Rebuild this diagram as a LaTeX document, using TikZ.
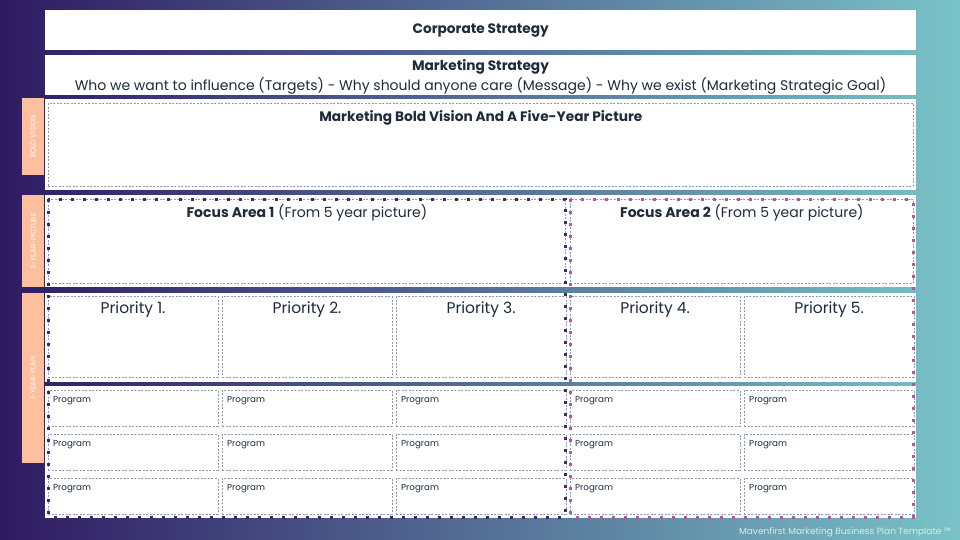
\documentclass[tikz,border=0pt]{standalone}
\usepackage{fontspec}
\setmainfont{Poppins}
\usetikzlibrary{positioning}
\definecolor{bgleft}{HTML}{2F1A62}
\definecolor{bgmid}{HTML}{50699B}
\definecolor{bgright}{HTML}{79C3C8}
\definecolor{peach}{HTML}{FDBF9D}
\definecolor{dashgray}{HTML}{8A9AB8}
\definecolor{dotpurple}{HTML}{3A2A70}
\definecolor{dotpink}{HTML}{B4589C}
\definecolor{ink}{HTML}{1E2B3B}
\definecolor{foot}{HTML}{D6ECEE}
\tikzset{x=1pt, y=-1pt,
  panel/.style={fill=white, anchor=north west, inner sep=0pt, minimum width=871pt},
  box/.style={draw=dashgray, dash pattern=on 2pt off 1.5pt, line width=0.7pt, anchor=north west, inner sep=0pt},
  tab/.style={fill=peach, anchor=north west, inner sep=0pt, minimum width=22pt},
  tablabel/.style={rotate=90, text=white, font=\fontsize{7}{8}\selectfont},
  title/.style={text=ink, font=\fontsize{13.7}{16}\selectfont\bfseries, inner sep=0pt},
  sub/.style={text=ink, font=\fontsize{14}{16}\selectfont, inner sep=0pt},
  prog/.style={text=ink, font=\fontsize{8.7}{10}\selectfont, inner sep=0pt},
  dots/.style={line width=3pt, dash pattern=on 3pt off 9pt}}

\begin{document}
\begin{tikzpicture}
  \useasboundingbox (0,0) rectangle (960,540);
  \fill[left color=bgleft, middle color=bgmid, right color=bgright] (0,0) rectangle (960,540);

  % white panels
  \node[panel, minimum height=40pt] (corp) at (45,10) {};
  \node[panel, minimum height=40pt] (mkt) at (45,55) {};
  \node[panel, minimum height=91pt] (visrow) at (45,99) {};
  \node[panel, minimum height=92pt] (focusrow) at (45,195) {};
  \node[panel, minimum height=89pt] (prirow) at (45,293) {};
  \node[panel, minimum height=132pt] (progrow) at (45,386) {};

  % side tabs
  \node[tab, minimum height=77pt] (tvis) at (22,98) {};
  \node[tab, minimum height=92pt] (tfocus) at (22,195) {};
  \node[tab, minimum height=170pt] (tplan) at (22,293) {};
  \node[tablabel] at (tvis) {BOLD VISION};
  \node[tablabel] at (tfocus) {3-YEAR-PICTURE};
  \node[tablabel] at (tplan) {1-YEAR-PLAN};

  % headings
  \node[title] at (corp) {Corporate Strategy};
  \node[title] (mkttitle) at (480.5,66.5) {Marketing Strategy};
  \node[sub, below=3.5pt of mkttitle] {Who we want to influence (Targets) - Why should anyone care (Message) - Why we exist (Marketing Strategic Goal)};

  % vision and focus areas
  \node[box, minimum width=865pt, minimum height=83pt] (vis) at (48,103) {};
  \node[title, below=7pt of vis.north] {Marketing Bold Vision And A Five-Year Picture};
  \node[box, minimum width=517pt, minimum height=84pt] (f1) at (48,199) {};
  \node[box, minimum width=343pt, minimum height=84pt] (f2) at (570,199) {};
  \node[sub, below=5.5pt of f1.north] {\textbf{Focus Area 1} (From 5 year picture)};
  \node[sub, below=5.5pt of f2.north] {\textbf{Focus Area 2} (From 5 year picture)};

  % priorities and programs
  \foreach \i/\xx in {1/48, 2/222, 3/396, 4/570, 5/744} {
    \node[box, minimum width=169.5pt, minimum height=81pt] (p\i) at (\xx,296) {};
    \node[sub, font=\fontsize{15.5}{17}\selectfont, below=6pt of p\i.north] {Priority \i.};
    \foreach \j/\yy in {1/390, 2/434, 3/478} {
      \node[box, minimum width=169.5pt, minimum height=36pt] (q\i\j) at (\xx,\yy) {};
      \node[prog, below right=6.5pt and 5pt of q\i\j.north west] {Program};
    }
  }

  % dotted focus frames
  \draw[dots, dotpurple] (f1.north west) rectangle (565,517);
  \draw[dots, dotpink] (f2.north west) rectangle (913,517);

  \node[anchor=south east, inner sep=0pt, text=foot, font=\fontsize{9}{10}\selectfont] at (951,537) {Mavenfirst Marketing Business Plan Template ™};
\end{tikzpicture}
\end{document}
